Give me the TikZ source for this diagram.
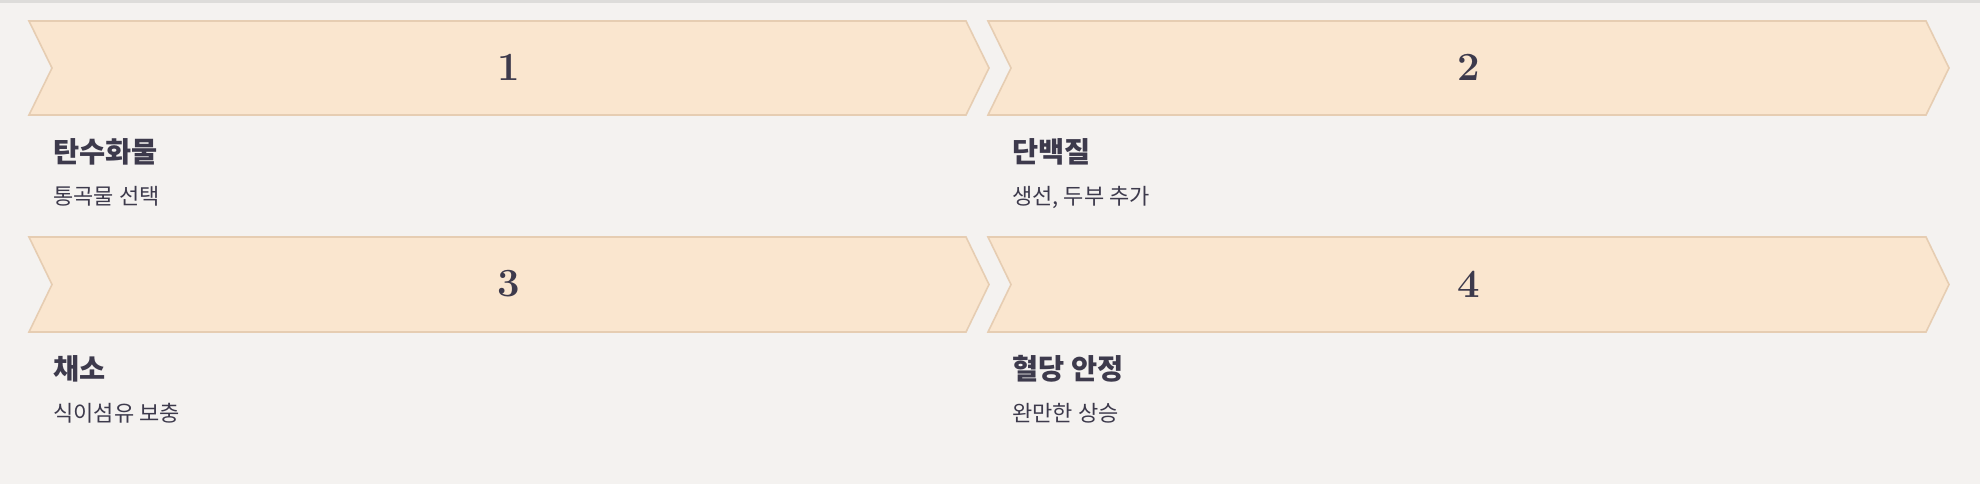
\documentclass[tikz,border=0pt]{standalone}
\usepackage{fontspec}
\newfontfamily\krfont{Noto Sans CJK KR}
\definecolor{bgcol}{HTML}{F4F2F0}
\definecolor{chevfill}{HTML}{FAE6CF}
\definecolor{chevline}{HTML}{E6CDB2}
\definecolor{inkcol}{HTML}{3D3A4C}
\definecolor{topline}{HTML}{DDDCDA}
\tikzset{
  chev/.style={fill=chevfill, draw=chevline, line width=0.8pt},
  stepnum/.style={font=\bfseries\fontsize{20}{24}\selectfont, text=inkcol},
  ttl/.style={anchor=base west, inner sep=0pt, font=\krfont\bfseries\fontsize{14.2}{17}\selectfont, text=inkcol},
  subtxt/.style={anchor=base west, inner sep=0pt, font=\krfont\fontsize{11}{13}\selectfont, text=inkcol},
}
\begin{document}
\begin{tikzpicture}[x=0.5pt,y=-0.5pt]

    \fill[bgcol] (0,0) rectangle (1980,484);
    \fill[topline] (0,0) rectangle (1980,2.5);

    % first row
    \draw[chev] (29,21)--(966,21)--(989,68)--(966,115)--(29,115)--(52,68)--cycle;
    \draw[chev] (988,21)--(1926,21)--(1949,68)--(1926,115)--(988,115)--(1011,68)--cycle;

    \node[stepnum] (n1) at (509,67) {1};
    \node[stepnum] (n2) at (1469,67) {2};

    \node[ttl] (t1) at (53,162) {탄수화물};
    \node[subtxt] (s1) at (53,204) {통곡물 선택};
    \node[ttl] (t2) at (1012,162) {단백질};
    \node[subtxt] (s2) at (1012,204) {생선, 두부 추가};

    % second row
    \draw[chev] (29,237)--(966,237)--(989,284.5)--(966,332)--(29,332)--(52,284.5)--cycle;
    \draw[chev] (988,237)--(1926,237)--(1949,284.5)--(1926,332)--(988,332)--(1011,284.5)--cycle;

    \node[stepnum] (n3) at (509,284) {3};
    \node[stepnum] (n4) at (1469,284) {4};

    \node[ttl] (t3) at (53,379) {채소};
    \node[subtxt] (s3) at (53,421) {식이섬유 보충};
    \node[ttl] (t4) at (1012,379) {혈당 안정};
    \node[subtxt] (s4) at (1012,421) {완만한 상승};

\end{tikzpicture}
\end{document}
